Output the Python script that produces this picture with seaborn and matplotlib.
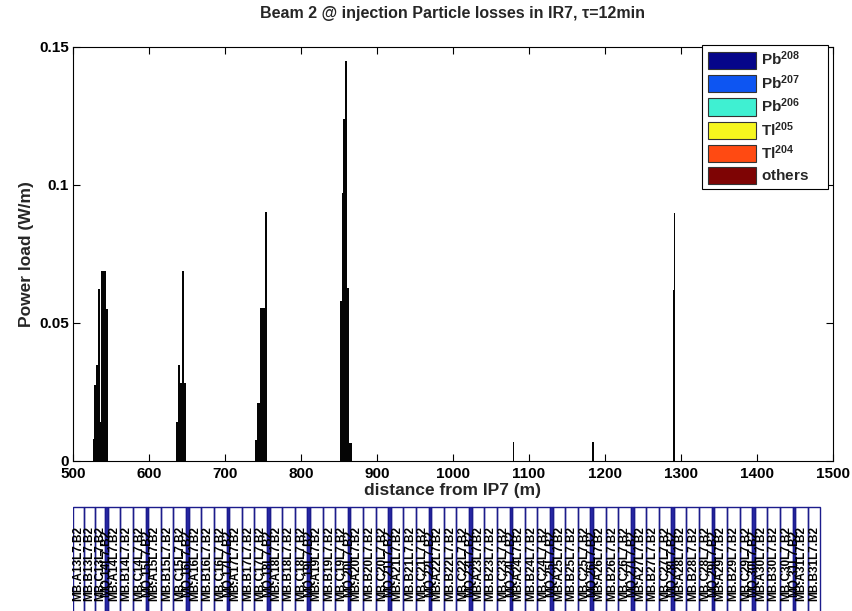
import numpy as np
import pandas as pd
import matplotlib
matplotlib.use("Agg")
import matplotlib.pyplot as plt
from matplotlib.patches import Rectangle, Patch
import seaborn as sns

# ---- data ----
# contiguous loss segments: bin edges (m) and power load (W/m) in each segment
g1_edges = [526.8, 528.2, 530.3, 532.5, 535.1, 536.8, 543.9, 545.6]
g1_power = [0.008, 0.0275, 0.0348, 0.0623, 0.0143, 0.069, 0.055]
g2_edges = [635.9, 638.0, 640.8, 643.7, 646.4, 648.1, 649.0]
g2_power = [0.014, 0.0348, 0.0281, 0.069, 0.0281, 0.005]
g3_edges = [739.4, 742.0, 746.4, 752.5, 754.7, 755.2]
g3_power = [0.0076, 0.0209, 0.0553, 0.0903, 0.0553]
g4_edges = [851.3, 853.5, 855.7, 858.5, 859.9, 860.9, 863.6, 866.7]
g4_power = [0.058, 0.097, 0.124, 0.145, 0.1175, 0.0627, 0.0065]
g5_edges = [1078.5, 1080.0]
g5_power = [0.007]
g6_edges = [1183.5, 1185.0]
g6_power = [0.007]
g7_edges = [1289.0, 1290.5, 1291.7, 1292.7]
g7_power = [0.062, 0.09, 0.007]

legend_labels = [r"$\mathbf{Pb^{208}}$", r"$\mathbf{Pb^{207}}$", r"$\mathbf{Pb^{206}}$",
                 r"$\mathbf{Tl^{205}}$", r"$\mathbf{Tl^{204}}$", r"$\mathbf{others}$"]
legend_colors = ["#06068a", "#0d55f2", "#3ff0d2", "#f6f61e", "#ff4a12", "#7e0404"]

x_ticks = [500, 600, 700, 800, 900, 1000, 1100, 1200, 1300, 1400, 1500]
y_ticks = [0, 0.05, 0.1, 0.15]
y_ticklabels = ["0", "0.05", "0.1", "0.15"]

# magnet layout strip (element names)
quad_first = 544.2
cell_length = 53.2
n_cells = 18
first_cell = 14

# ---- build the table for seaborn ----
groups = [(g1_edges, g1_power), (g2_edges, g2_power), (g3_edges, g3_power),
          (g4_edges, g4_power), (g5_edges, g5_power), (g6_edges, g6_power),
          (g7_edges, g7_power)]
all_edges = []
rows = []
for edges, power in groups:
    for i, p in enumerate(power):
        rows.append({"s": 0.5 * (edges[i] + edges[i + 1]), "p": p})
    all_edges.extend(edges)
all_edges = sorted(set(all_edges))
df = pd.DataFrame(rows)

sns.set_theme(style="white")
narrow = ["Liberation Sans Narrow", "Liberation Sans", "DejaVu Sans"]
plt.rcParams["font.family"] = ["Liberation Sans", "DejaVu Sans"]
plt.rcParams["mathtext.fontset"] = "custom"
plt.rcParams["mathtext.rm"] = "Liberation Sans"
plt.rcParams["mathtext.bf"] = "Liberation Sans:bold"

fig = plt.figure(figsize=(8.53, 6.11), dpi=100)
ax = fig.add_axes([73 / 853, (611 - 461) / 611, 760 / 853, 414 / 611])

sns.histplot(data=df, x="s", weights="p", bins=all_edges, stat="count",
             color="#050505", alpha=1.0, linewidth=0, ax=ax, legend=False)

ax.set_xlim(500, 1500)
ax.set_ylim(0, 0.15)
ax.set_xticks(x_ticks)
ax.set_xticklabels([str(t) for t in x_ticks], family=narrow, fontweight="bold", fontsize=11)
ax.set_yticks(y_ticks)
ax.set_yticklabels(y_ticklabels, family=narrow, fontweight="bold", fontsize=11)
ax.tick_params(direction="in", length=5, width=0.8, top=True, right=True,
               bottom=True, left=True, colors="black")
ax.tick_params(axis="x", pad=4)
ax.tick_params(axis="y", pad=3)
for sp in ax.spines.values():
    sp.set_color("black")
    sp.set_linewidth(0.8)
ax.set_xlabel("distance from IP7 (m)", fontsize=12.5, fontweight="bold", labelpad=2)
ax.set_ylabel("Power load (W/m)", fontsize=12.5, fontweight="bold", labelpad=4)
ax.set_title("Beam 2 @ injection Particle losses in IR7, \u03c4=12min",
             fontsize=11.5, fontweight="bold", pad=21)

handles = [Patch(facecolor=c, edgecolor="#333333", linewidth=0.8) for c in legend_colors]
leg = ax.legend(handles, [l + "    " for l in legend_labels], loc="upper right",
                bbox_to_anchor=(0.993, 1.006), fontsize=11,
                handlelength=3.2, handleheight=1.35, handletextpad=0.3,
                labelspacing=0.28, borderpad=0.35, borderaxespad=0.0,
                fancybox=False, framealpha=1, edgecolor="black")
leg.get_frame().set_linewidth(0.8)

# ---- magnet name strip ----
ax2 = fig.add_axes([73 / 853, 0, 760 / 853, 105 / 611])
ax2.set_xlim(500, 1500)
ax2.set_ylim(0, 1)
ax2.axis("off")
elements = []
pre = [(500.0, 514.5), (514.5, 529.0), (529.0, 542.5)]
for letter, (a, b) in zip(["A", "B", "C"], pre):
    elements.append((a, b, f"MB.{letter}13L7.B2", False))
for k in range(n_cells):
    q = quad_first + k * cell_length
    n = first_cell + k
    elements.append((q - 1.7, q + 1.7, f"MQ.{n}L7.B2", True))
    spans = [(q + 1.7, q + 18.2), (q + 18.2, q + 34.8), (q + 34.8, q + 51.5)]
    for letter, (a, b) in zip(["A", "B", "C"], spans):
        if a < 1480:
            elements.append((a, min(b, 1486), f"MB.{letter}{n}L7.B2", False))
for a, b, name, is_quad in elements:
    if is_quad:
        ax2.add_patch(Rectangle((a, -0.1), b - a, 1.09, facecolor="#2a2aa8",
                                edgecolor="#1a1a90", linewidth=1.0))
    else:
        ax2.add_patch(Rectangle((a, -0.1), b - a, 1.09, facecolor="none",
                                edgecolor="#1c1c8c", linewidth=1.0))
    ax2.text(0.5 * (a + b), 0.45, name, rotation=90, ha="center", va="center",
             fontsize=8.5, fontweight="bold", family=narrow, color="black")

fig.savefig("out.png", dpi=100)
